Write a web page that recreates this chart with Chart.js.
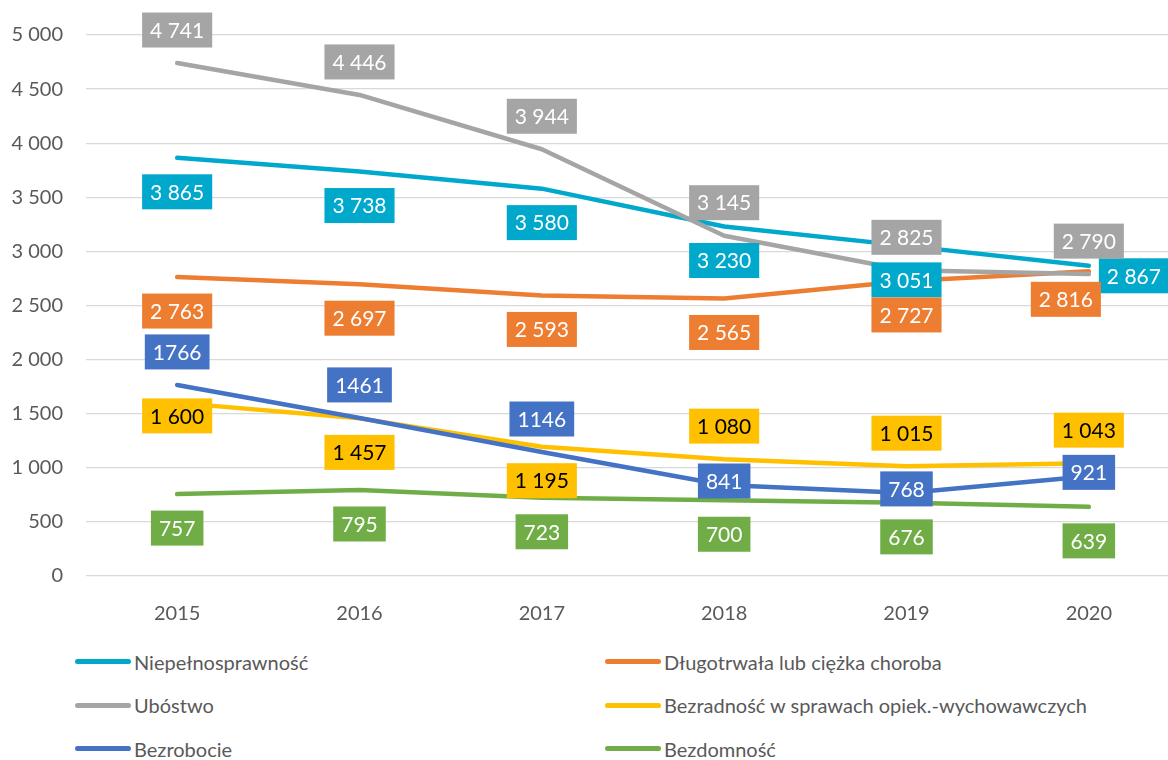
<!DOCTYPE html>
<html>
<head>
<meta charset="utf-8">
<script src="https://cdn.jsdelivr.net/npm/chart.js@4"></script>
<style>
    body { margin: 0; background: #fff; overflow: hidden; }
    #wrap { position: relative; width: 1180px; height: 625px; }
    #legend {
        position: absolute; left: 75px; top: 640px;
        display: grid; grid-template-columns: 530px 500px; grid-auto-rows: 43.5px;
        font-family: Lato, sans-serif; font-size: 20px; color: #595959;
    }
    .item { display: flex; align-items: center; }
    .swatch { width: 56px; height: 5px; border-radius: 3px; margin-right: 3px; }
</style>
</head>
<body>
<div id="wrap"><canvas id="lineChart"></canvas></div>
<div id="legend"></div>
<script>
const years = ["2015", "2016", "2017", "2018", "2019", "2020"];
const niepelnosprawnosc = [3865, 3738, 3580, 3230, 3051, 2867];
const choroba = [2763, 2697, 2593, 2565, 2727, 2816];
const ubostwo = [4741, 4446, 3944, 3145, 2825, 2790];
const bezradnosc = [1600, 1457, 1195, 1080, 1015, 1043];
const bezrobocie = [1766, 1461, 1146, 841, 768, 921];
const bezdomnosc = [757, 795, 723, 700, 676, 639];
const yTicks = [0, 500, 1000, 1500, 2000, 2500, 3000, 3500, 4000, 4500, 5000];

const series = [
    { label: "Niepełnosprawność", data: niepelnosprawnosc, color: "#00A8CC", text: "#fff", group: true,
      pos: ["below", "below", "below", "below", "below", "right"] },
    { label: "Długotrwała lub ciężka choroba", data: choroba, color: "#ED7D31", text: "#fff", group: true,
      pos: ["below", "below", "below", "below", "below", "belowLeft"] },
    { label: "Ubóstwo", data: ubostwo, color: "#A5A5A5", text: "#fff", group: true,
      pos: ["above", "above", "above", "above", "above", "above"] },
    { label: "Bezradność w sprawach opiek.-wychowawczych", data: bezradnosc, color: "#FFC000", text: "#000", group: true,
      pos: ["low", "below", "below", "above", "above", "above"] },
    { label: "Bezrobocie", data: bezrobocie, color: "#4472C4", text: "#fff", group: false,
      pos: ["above", "above", "above", "center", "center", "center"] },
    { label: "Bezdomność", data: bezdomnosc, color: "#70AD47", text: "#fff", group: true,
      pos: ["below", "below", "below", "below", "below", "below"] },
];

function fmt(v, group) {
    const s = String(v);
    return group ? s.replace(/\B(?=(\d{3})+(?!\d))/g, " ") : s;
}

// Excel-like data labels: coloured box with value
const boxLabels = {
    id: "boxLabels",
    afterDatasetsDraw(chart) {
        const ctx = chart.ctx;
        ctx.save();
        ctx.font = "21px Lato, sans-serif";
        ctx.textAlign = "center";
        ctx.textBaseline = "middle";
        chart.data.datasets.forEach((ds, i) => {
            const s = series[i];
            chart.getDatasetMeta(i).data.forEach((pt, j) => {
                const txt = fmt(ds.data[j], s.group);
                const w = ctx.measureText(txt).width + 16;
                const h = 35;
                let cx = pt.x, cy = pt.y;
                const p = s.pos[j];
                if (p === "above") cy -= 33;
                else if (p === "below") cy += 34;
                else if (p === "belowLeft") { cx -= 23; cy += 28; }
                else if (p === "right") { cx += 10 + w / 2; cy += 10; }
                else if (p === "low") cy += 13;
                else cy -= 4;
                ctx.fillStyle = s.color;
                ctx.fillRect(cx - w / 2, cy - h / 2, w, h);
                ctx.fillStyle = s.text;
                ctx.fillText(txt, cx, cy + 1);
            });
        });
        ctx.restore();
    }
};

const ctx = document.getElementById("lineChart");
new Chart(ctx, {
    type: "line",
    data: {
        labels: years,
        datasets: series.map((s, i) => ({
            label: s.label,
            data: s.data,
            borderColor: s.color,
            backgroundColor: s.color,
            borderWidth: 4.5,
            borderCapStyle: "round",
            borderJoinStyle: "round",
            pointRadius: 0,
            tension: 0,
            order: series.length - i,
        })),
    },
    options: {
        responsive: true,
        maintainAspectRatio: false,
        animation: false,
        layout: { padding: { top: 23, right: 0, bottom: 0, left: 0 } },
        plugins: {
            legend: { display: false },
            tooltip: { enabled: false },
        },
        scales: {
            x: {
                offset: true,
                grid: { display: false },
                border: { display: false },
                ticks: { color: "#595959", font: { family: "Lato", size: 20 }, padding: 18 },
                afterFit: (axis) => { axis.height = 49; },
            },
            y: {
                min: 0,
                max: 5000,
                afterBuildTicks: (axis) => { axis.ticks = yTicks.map((v) => ({ value: v })); },
                grid: { color: "#D9D9D9", lineWidth: 1.3, drawTicks: false },
                border: { display: false },
                ticks: {
                    color: "#595959",
                    font: { family: "Lato", size: 20 },
                    padding: 23,
                    callback: (v) => fmt(v, true),
                },
                afterFit: (axis) => { axis.width = 86; },
            },
        },
    },
    plugins: [boxLabels],
});

const legend = document.getElementById("legend");
series.forEach((s) => {
    const item = document.createElement("div");
    item.className = "item";
    const sw = document.createElement("span");
    sw.className = "swatch";
    sw.style.background = s.color;
    const t = document.createElement("span");
    t.textContent = s.label;
    item.appendChild(sw);
    item.appendChild(t);
    legend.appendChild(item);
});
</script>
</body>
</html>
